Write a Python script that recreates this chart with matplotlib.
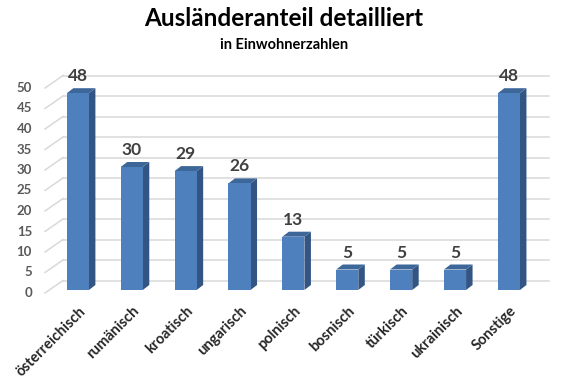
import matplotlib
matplotlib.use("Agg")
import matplotlib.pyplot as plt
from matplotlib.patches import Polygon, Rectangle
from matplotlib.transforms import offset_copy

# data
categories = ['österreichisch', 'rumänisch', 'kroatisch', 'ungarisch', 'polnisch',
              'bosnisch', 'türkisch', 'ukrainisch', 'Sonstige']
values = [48, 30, 29, 26, 13, 5, 5, 5, 48]
yticks = list(range(0, 55, 5))

plt.rcParams['font.family'] = ['Lato', 'DejaVu Sans']

front_col = '#4E80BD'
side_col = '#325584'
top_col = '#3D6699'
grid_col = '#D9D9D9'

fig = plt.figure(figsize=(5.68, 3.79), dpi=100)
# axes = front plane of the bars (pixel geometry of the original)
W, H = 568, 379
left_px, right_px = 49.3, 535.3
bot_px, top_px = 290, 85
ax = fig.add_axes([left_px / W, (H - bot_px) / H, (right_px - left_px) / W, (bot_px - top_px) / H])
xmin, xmax = -0.53, 8.49
ax.set_xlim(xmin, xmax)
ax.set_ylim(0, 50)
ax.axis('off')


def px(dx, dy):
    # pixel offset -> data offset (dy positive = up)
    inv = ax.transData.inverted()
    x0, y0 = inv.transform((0, 0))
    x1, y1 = inv.transform((dx, dy))
    return x1 - x0, y1 - y0


wx, wy = px(13.7, 9.5)    # back wall
fx, fy = px(-4.3, -3.0)   # front edge of floor / side wall
dx, dy = px(6.5, 5.0)     # bar depth

# walls: gridlines on back wall and side wall
for v in yticks:
    ax.plot([xmin + wx, xmax + wx], [v + wy, v + wy], color=grid_col, lw=1.1, zorder=1, clip_on=False)
    ax.plot([xmin + fx, xmin + wx], [v + fy, v + wy], color=grid_col, lw=1.1, zorder=1, clip_on=False)
    ax.text(xmin + fx, v + fy, str(v), transform=offset_copy(ax.transData, fig, x=-13, y=0, units='dots'),
            ha='right', va='center', fontsize=9.5, fontweight='bold', color='#595959')

# 3d bars
w = 0.41
for i, v in enumerate(values):
    x0, x1 = i - w / 2, i + w / 2
    ax.add_patch(Polygon([(x1, 0), (x1 + dx, dy), (x1 + dx, v + dy), (x1, v)],
                         closed=True, facecolor=side_col, edgecolor='none', zorder=3, clip_on=False))
    ax.add_patch(Polygon([(x0, v), (x1, v), (x1 + dx, v + dy), (x0 + dx, v + dy)],
                         closed=True, facecolor=top_col, edgecolor='none', zorder=3, clip_on=False))
    ax.add_patch(Rectangle((x0, 0), w, v, facecolor=front_col, edgecolor='none', zorder=4, clip_on=False))
    ax.text(i, v, str(v), transform=offset_copy(ax.transData, fig, x=0, y=17, units='dots'),
            ha='center', va='center', fontsize=12.5, fontweight='bold', color='#404040')
    ax.text(i + 0.01, 0, categories[i], transform=offset_copy(ax.transData, fig, x=0, y=-14, units='dots'),
            ha='right', va='top', rotation=45, rotation_mode='anchor',
            fontsize=10.5, fontweight='bold', color='#262626')

fig.text(0.5, 1 - 18 / H, 'Ausländeranteil detailliert', ha='center', va='center',
         fontsize=17.5, fontweight='bold', color='black')
fig.text(0.5, 1 - 45 / H, 'in Einwohnerzahlen', ha='center', va='center',
         fontsize=10.5, fontweight='bold', color='black')

fig.savefig('out.png', dpi=100)
